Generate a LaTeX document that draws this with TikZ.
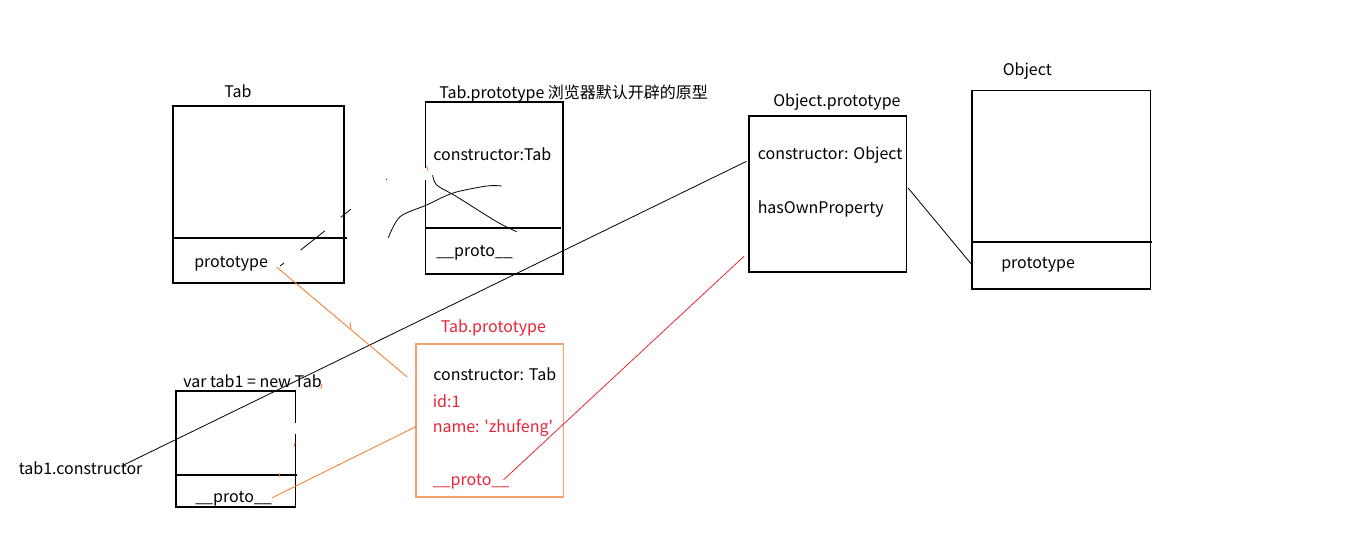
\documentclass[tikz,border=0pt]{standalone}
\usepackage{fontspec}
\setmainfont{Noto Sans CJK SC}
\usetikzlibrary{positioning}
\definecolor{lineorange}{RGB}{245,120,40}
\definecolor{boxorange}{RGB}{245,160,110}
\definecolor{txtred}{RGB}{235,35,55}

\begin{document}
\begin{tikzpicture}[x=0.75pt, y=-0.75pt,
    every node/.style={inner sep=0pt, anchor=west, yshift=-1pt, font=\fontsize{12}{14}\selectfont},
    frame/.style={line width=0.8pt},
    link/.style={line width=0.6pt},
    tick/.style={line width=0.6pt, lineorange}
  ]
  \useasboundingbox (0,0) rectangle (1360,533);

  % Tab
  \draw[frame] (173,106) rectangle (344,283);
  \draw[frame] (173,238) -- (347,238);
  \node (tabT) at (224,90) {Tab};
  \node (tabP) at (194,262) {prototype};

  % Tab.prototype opened by the browser
  \draw[frame] (425.7,168) -- (425.7,102) -- (563,102) -- (563,274) -- (425.7,274) -- (425.7,180);
  \draw[frame] (425.7,228) -- (561,228);
  \node (bpT) at (439,92) {Tab.prototype 浏览器默认开辟的原型};
  \node (bpC) at (433,153) {constructor:Tab};
  \node (bpP) at (436,251) {\_\_proto\_\_};

  % Object.prototype
  \draw[frame] (749,116) rectangle (906.5,272);
  \node (opT) at (773,101) {Object.prototype};
  \node (opC) at (757.5,154) {constructor: Object};
  \node (opH) at (757.5,208) {hasOwnProperty};

  % Object
  \draw[frame] (972,90.5) rectangle (1150.5,289);
  \draw[frame] (972,242) -- (1152,242);
  \node (obT) at (1002.5,70) {Object};
  \node (obP) at (1001,263) {prototype};

  % tab1
  \draw[frame] (295.5,423) -- (295.5,391) -- (176,391) -- (176,507) -- (295.5,507) -- (295.5,434);
  \draw[frame] (176,475) -- (297,475);
  \node (t1T) at (183,380) {var tab1 = new Tab};
  \node (t1P) at (195,497) {\_\_proto\_\_};
  \node (t1C) at (18.5,467) {tab1.constructor};

  % Tab.prototype with own props
  \draw[frame, boxorange] (416,344) rectangle (563.5,497);
  \node[txtred] (ipT) at (440.5,327) {Tab.prototype};
  \node (ipC) at (433,373) {constructor: Tab};
  \node[txtred] (ipI) at (432.5,400) {id:1};
  \node[txtred] (ipN) at (432.5,426.5) {name: \textquotesingle zhufeng\textquotesingle};
  \node[txtred] (ipP) at (432.5,480.5) {\_\_proto\_\_};

  % links
  \coordinate (t1Cend) at (124,463.5);
  \coordinate (opCend) at (746.5,160);
  \coordinate (tabPend) at (277,266);
  \coordinate (ipCend) at (407,375.5);
  \coordinate (t1Pend) at (272,496.5);
  \coordinate (ipNend) at (416.5,425);
  \coordinate (ipPend) at (503.5,478.5);
  \coordinate (opLow) at (744,255);
  \coordinate (opRight) at (908,186.5);
  \coordinate (obPend) at (971.5,263);
  \draw[link] (t1Cend) -- (opCend);
  \draw[link, lineorange] (tabPend) -- (ipCend);
  \draw[link, lineorange] (t1Pend) -- (ipNend);
  \draw[link, txtred] (ipPend) -- (opLow);
  \draw[link] (opRight) -- (obPend);

  % scribbles
  \draw[link] plot[smooth] coordinates {(388.3,237.7) (400,216.7) (426.7,205) (453,193) (486.7,186) (501.7,186)};
  \draw[link] plot[smooth] coordinates {(432.7,175) (436.7,185) (456.7,196.7) (496.7,221.7) (516.7,231.7)};
  \draw[link] (300.7,250) -- (325,230.7);
  \draw[link] (340.7,217.3) -- (350.7,209.3);
  \draw[link] (280,266) -- (284,263);
  \fill (386.7,179.3) circle (0.6);
  \draw[tick] (426.5,166) -- (428.3,171);
  \draw[tick] (350,322) -- (351,329);
  \draw[tick] (295,443) -- (294,447);
  \draw[tick] (322,384) -- (321,389);
  \draw[tick] (280,473) -- (279,477);
\end{tikzpicture}
\end{document}
